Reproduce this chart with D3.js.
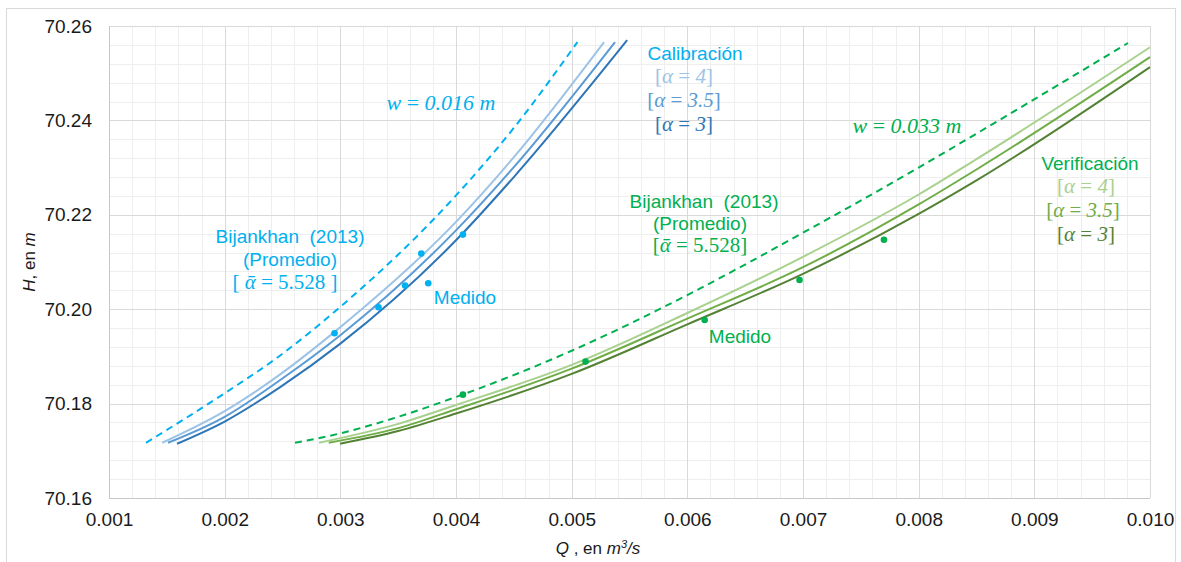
<!DOCTYPE html>
<html>
<head>
<meta charset="utf-8">
<script src="https://cdn.jsdelivr.net/npm/d3@7"></script>
<style>
  body { margin: 0; background: #fff; }
  svg { display: block; font-family: "Liberation Sans", Arial, sans-serif; }
</style>
</head>
<body>
<svg id="chart" width="1181" height="562"></svg>
<script>
// tick values
var xTicks = [0.001, 0.002, 0.003, 0.004, 0.005, 0.006, 0.007, 0.008, 0.009, 0.010]
var yTicks = [70.16, 70.18, 70.20, 70.22, 70.24, 70.26]

// Calibración (w = 0.016 m)
var calDashQ = [0.00132, 0.0020, 0.00248, 0.0030, 0.0040, 0.0045, 0.00505]
var calDashH = [70.1717, 70.1822, 70.1902, 70.2005, 70.2241, 70.2384, 70.2566]
var calA4Q = [0.00146, 0.0020, 0.00248, 0.0030, 0.0040, 0.0045, 0.00528]
var calA4H = [70.1717, 70.1784, 70.1862, 70.1962, 70.2185, 70.2322, 70.2566]
var calA35Q = [0.00151, 0.0020, 0.00248, 0.0030, 0.0040, 0.0045, 0.005375]
var calA35H = [70.1717, 70.1772, 70.1850, 70.1945, 70.2167, 70.2301, 70.2566]
var calA3Q = [0.001588, 0.0020, 0.00248, 0.0030, 0.0040, 0.0045, 0.00548]
var calA3H = [70.1715, 70.1762, 70.1835, 70.1927, 70.2146, 70.2280, 70.2570]
var calMedQ = [0.00295, 0.00333, 0.00356, 0.00370, 0.00376, 0.00406]
var calMedH = [70.1949, 70.2004, 70.2050, 70.2118, 70.2055, 70.2158]

// Verificación (w = 0.033 m)
var verDashQ = [0.002608, 0.0030, 0.0035, 0.0040, 0.0050, 0.0060, 0.0070, 0.0080, 0.0085, 0.00981]
var verDashH = [70.1717, 70.1737, 70.1772, 70.1814, 70.1912, 70.2030, 70.2162, 70.2300, 70.2372, 70.2564]
var verA4Q = [0.002816, 0.0035, 0.0040, 0.0050, 0.0060, 0.0070, 0.0080, 0.0085, 0.0100]
var verA4H = [70.1717, 70.1757, 70.1797, 70.1882, 70.1992, 70.2111, 70.2243, 70.2318, 70.2555]
var verA35Q = [0.0029, 0.0035, 0.0040, 0.0050, 0.0060, 0.0070, 0.0080, 0.0085, 0.0100]
var verA35H = [70.1717, 70.1748, 70.1788, 70.1874, 70.1980, 70.2089, 70.2222, 70.2296, 70.2534]
var verA3Q = [0.002997, 0.0035, 0.0040, 0.0050, 0.0060, 0.0070, 0.0080, 0.0085, 0.0100]
var verA3H = [70.1715, 70.1742, 70.1779, 70.1863, 70.1968, 70.2075, 70.2202, 70.2273, 70.2513]
var verMedQ = [0.00406, 0.00512, 0.00615, 0.00697, 0.00770]
var verMedH = [70.1819, 70.1889, 70.1977, 70.2062, 70.2147]

var svg = d3.select('#chart')

var x = d3.scaleLinear().domain([0.001, 0.010]).range([109, 1150])
var y = d3.scaleLinear().domain([70.16, 70.26]).range([498, 26])

// outer frame
svg.append('rect')
  .attr('x', 6.5).attr('y', 8.5)
  .attr('width', 1169).attr('height', 560)
  .attr('fill', '#fff')
  .attr('stroke', '#d9d9d9')

// grid, minor then major
var grid = svg.append('g')
var xMinor = d3.range(0, 46).map(function(i){ return 0.001 + i * 0.0002 })
var yMinor = d3.range(0, 26).map(function(i){ return 70.16 + i * 0.004 })

grid.selectAll('.xm').data(xMinor).enter().append('line')
  .attr('x1', function(d){ return Math.round(x(d)) + 0.5 })
  .attr('x2', function(d){ return Math.round(x(d)) + 0.5 })
  .attr('y1', y(70.26)).attr('y2', y(70.16))
  .attr('stroke', '#eeeeee')
grid.selectAll('.ym').data(yMinor).enter().append('line')
  .attr('y1', function(d){ return Math.round(y(d)) + 0.5 })
  .attr('y2', function(d){ return Math.round(y(d)) + 0.5 })
  .attr('x1', x(0.001)).attr('x2', x(0.010))
  .attr('stroke', '#eeeeee')
grid.selectAll('.xM').data(xTicks).enter().append('line')
  .attr('x1', function(d){ return Math.round(x(d)) + 0.5 })
  .attr('x2', function(d){ return Math.round(x(d)) + 0.5 })
  .attr('y1', y(70.26)).attr('y2', y(70.16))
  .attr('stroke', '#d9d9d9')
grid.selectAll('.yM').data(yTicks).enter().append('line')
  .attr('y1', function(d){ return Math.round(y(d)) + 0.5 })
  .attr('y2', function(d){ return Math.round(y(d)) + 0.5 })
  .attr('x1', x(0.001)).attr('x2', x(0.010))
  .attr('stroke', '#d9d9d9')

// axes lines
svg.append('line')
  .attr('x1', Math.round(x(0.001)) + 0.5).attr('x2', Math.round(x(0.001)) + 0.5)
  .attr('y1', y(70.26)).attr('y2', y(70.16))
  .attr('stroke', '#c8c8c8')
svg.append('line')
  .attr('x1', x(0.001)).attr('x2', x(0.010))
  .attr('y1', Math.round(y(70.16)) + 0.5).attr('y2', Math.round(y(70.16)) + 0.5)
  .attr('stroke', '#c8c8c8')

// tick labels via d3 axes
var xAxis = svg.append('g')
  .attr('transform', 'translate(0,' + y(70.16) + ')')
  .call(d3.axisBottom(x).tickValues(xTicks).tickFormat(d3.format('.3f')).tickSize(0).tickPadding(15))
var yAxis = svg.append('g')
  .attr('transform', 'translate(' + x(0.001) + ',0)')
  .call(d3.axisLeft(y).tickValues(yTicks).tickFormat(d3.format('.2f')).tickSize(0).tickPadding(17))
;[xAxis, yAxis].forEach(function(a){
  a.select('.domain').remove()
  a.selectAll('text')
    .style('font-family', '"Liberation Sans", Arial, sans-serif')
    .style('font-size', '19px')
    .attr('fill', '#1a1a1a')
})

// axis titles
var yTitle = svg.append('text')
  .attr('transform', 'translate(35,262) rotate(-90)')
  .attr('text-anchor', 'middle')
  .style('font-size', '17px')
  .attr('fill', '#1a1a1a')
yTitle.append('tspan').style('font-style', 'italic').text('H')
yTitle.append('tspan').text(', en ')
yTitle.append('tspan').style('font-style', 'italic').text('m')

var xTitle = svg.append('text')
  .attr('x', 598).attr('y', 554)
  .attr('text-anchor', 'middle')
  .style('font-size', '17px')
  .attr('fill', '#1a1a1a')
xTitle.append('tspan').style('font-style', 'italic').text('Q')
xTitle.append('tspan').text(' , en ')
xTitle.append('tspan').style('font-style', 'italic').text('m')
xTitle.append('tspan').style('font-style', 'italic').attr('dy', -6).style('font-size', '11px').text('3')
xTitle.append('tspan').style('font-style', 'italic').attr('dy', 6).text('/s')

// curves
var line = d3.line()
  .x(function(d){ return x(d[0]) })
  .y(function(d){ return y(d[1]) })
  .curve(d3.curveMonotoneX)

function pairs(q, h){ return q.map(function(v, i){ return [v, h[i]] }) }

var series = [
  {q: calDashQ, h: calDashH, color: '#00b0f0', dash: '7,5'},
  {q: calA4Q, h: calA4H, color: '#9dc3e6'},
  {q: calA35Q, h: calA35H, color: '#5b9bd5'},
  {q: calA3Q, h: calA3H, color: '#2e75b6'},
  {q: verDashQ, h: verDashH, color: '#00b050', dash: '7,5'},
  {q: verA4Q, h: verA4H, color: '#a9d18e'},
  {q: verA35Q, h: verA35H, color: '#70ad47'},
  {q: verA3Q, h: verA3H, color: '#548235'}
]

svg.append('g').selectAll('path').data(series).enter().append('path')
  .attr('d', function(s){ return line(pairs(s.q, s.h)) })
  .attr('fill', 'none')
  .attr('stroke', function(s){ return s.color })
  .attr('stroke-width', 2)
  .attr('stroke-dasharray', function(s){ return s.dash || null })

// measured points
svg.append('g').selectAll('circle').data(pairs(calMedQ, calMedH)).enter().append('circle')
  .attr('cx', function(d){ return x(d[0]) }).attr('cy', function(d){ return y(d[1]) })
  .attr('r', 3.3).attr('fill', '#00b0f0')
svg.append('g').selectAll('circle').data(pairs(verMedQ, verMedH)).enter().append('circle')
  .attr('cx', function(d){ return x(d[0]) }).attr('cy', function(d){ return y(d[1]) })
  .attr('r', 3.3).attr('fill', '#00b050')

// annotations
function label(px, py, txt, color, size){
  return svg.append('text')
    .attr('x', px).attr('y', py)
    .attr('text-anchor', 'middle')
    .style('font-size', (size || 19) + 'px')
    .attr('fill', color)
    .text(txt)
}

// math-style label: parts = [[text, italic], ...]
function mathLabel(px, py, parts, color, size){
  var t = svg.append('text')
    .attr('x', px).attr('y', py)
    .attr('text-anchor', 'middle')
    .style('font-family', '"Liberation Serif", "DejaVu Serif", serif')
    .style('font-size', (size || 21) + 'px')
    .attr('fill', color)
  parts.forEach(function(p){
    t.append('tspan').style('font-style', p[1] ? 'italic' : 'normal').text(p[0])
  })
  return t
}

label(695, 60, 'Calibración', '#00b0f0')
mathLabel(684, 83, [['[', 0], ['α', 1], [' = ', 0], ['4', 1], [']', 0]], '#9dc3e6')
mathLabel(684, 107, [['[', 0], ['α', 1], [' = ', 0], ['3.5', 1], [']', 0]], '#5b9bd5')
mathLabel(684, 131, [['[', 0], ['α', 1], [' = ', 0], ['3', 1], [']', 0]], '#2e75b6')
mathLabel(441, 110, [['w', 1], [' = ', 0], ['0.016', 1], [' m', 1]], '#00b0f0', 22)

label(290, 243, 'Bijankhan\u00a0 (2013)', '#00b0f0')
label(290, 266, '(Promedio)', '#00b0f0')
mathLabel(285, 289, [['[ ', 0], ['ᾱ', 1], [' = 5.528 ]', 0]], '#00b0f0')
label(465, 304, 'Medido', '#00b0f0')

label(1090, 170, 'Verificación', '#00b050')
mathLabel(1086, 193, [['[', 0], ['α', 1], [' = ', 0], ['4', 1], [']', 0]], '#a9d18e')
mathLabel(1083, 217, [['[', 0], ['α', 1], [' = ', 0], ['3.5', 1], [']', 0]], '#70ad47')
mathLabel(1086, 241, [['[', 0], ['α', 1], [' = ', 0], ['3', 1], [']', 0]], '#548235')
mathLabel(907, 133, [['w', 1], [' = ', 0], ['0.033', 1], [' m', 1]], '#00b050', 22)

label(704, 208, 'Bijankhan\u00a0 (2013)', '#00b050')
label(700, 230, '(Promedio)', '#00b050')
mathLabel(700, 252, [['[', 0], ['ᾱ', 1], [' = 5.528]', 0]], '#00b050')
label(740, 343, 'Medido', '#00b050')
</script>
</body>
</html>
